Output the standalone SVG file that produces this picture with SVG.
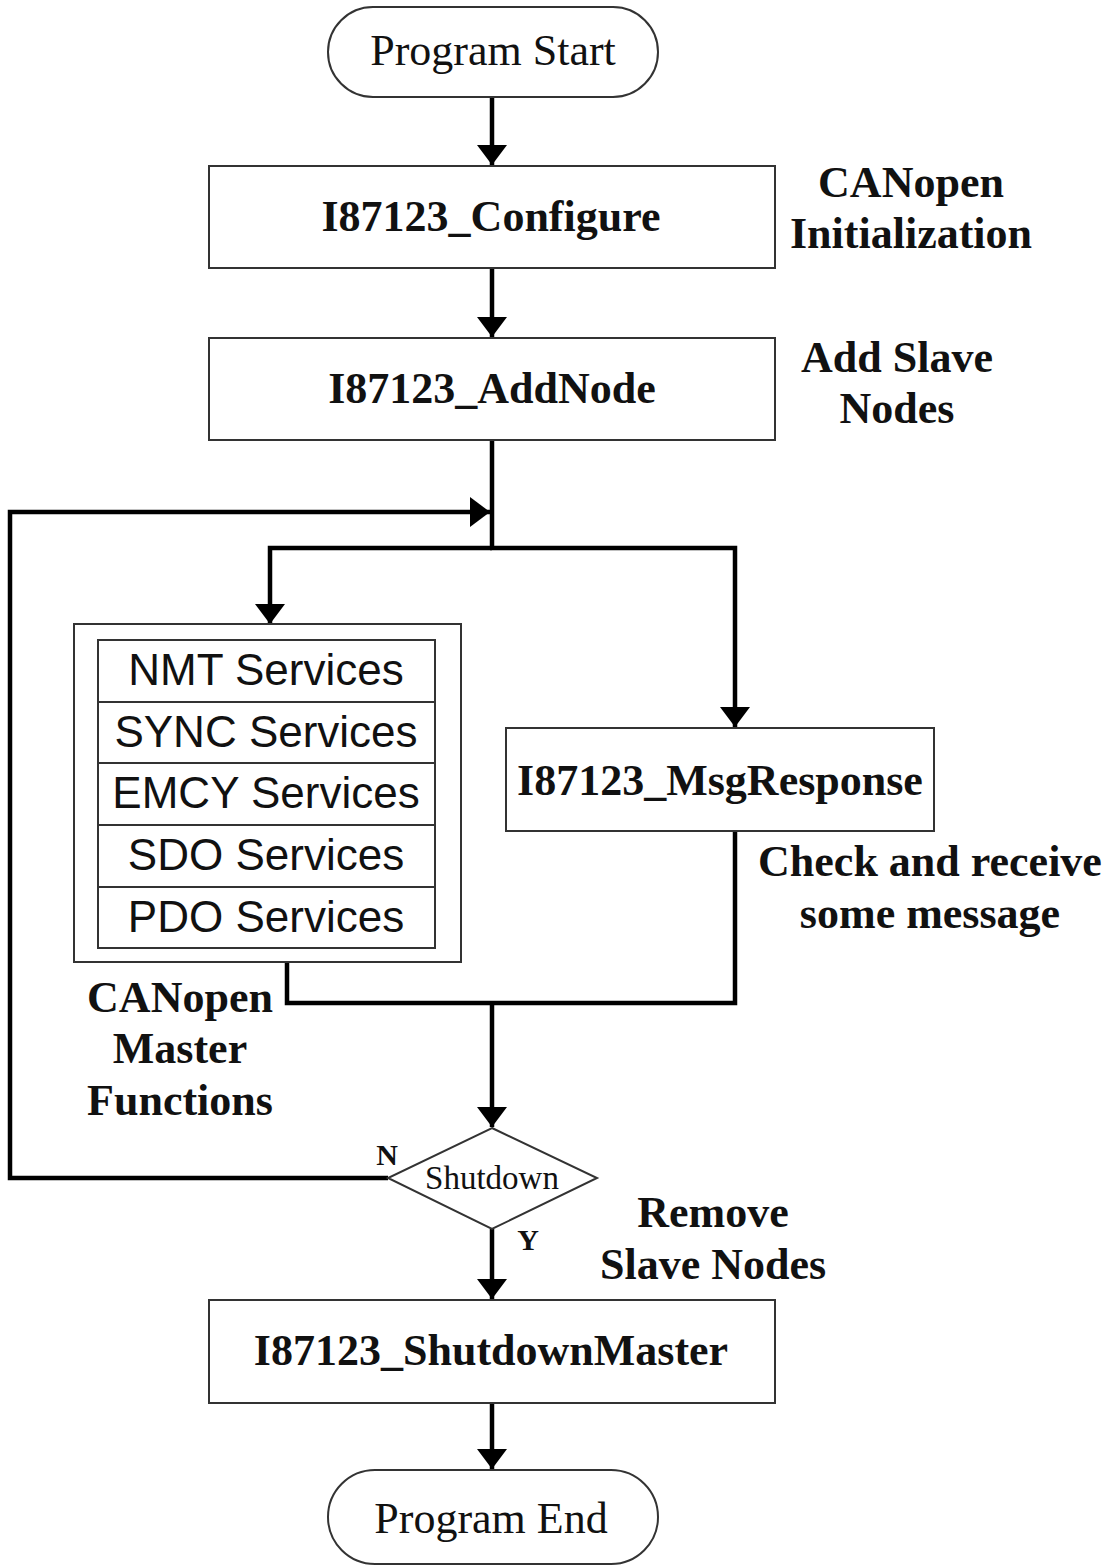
<svg xmlns="http://www.w3.org/2000/svg" width="1111" height="1566" viewBox="0 0 1111 1566">
<defs>
<marker id="ah" viewBox="0 0 20 30" refX="20" refY="15" markerWidth="20" markerHeight="30" markerUnits="userSpaceOnUse" orient="auto">
<path d="M0,0 L20,15 L0,30 Z" fill="#000"/>
</marker>
<style>
.box{fill:#fff;stroke:#333;stroke-width:2}
.conn{fill:none;stroke:#000;stroke-width:4.5}
.t{font-family:"Liberation Serif",serif;font-size:44px;text-anchor:middle;fill:#111}
.b{font-family:"Liberation Serif",serif;font-size:44px;font-weight:bold;text-anchor:middle;fill:#111}
.s{font-family:"Liberation Sans",Arial,sans-serif;font-size:44px;text-anchor:middle;fill:#111}
</style>
</defs>
<rect width="1111" height="1566" fill="#fff"/>
<g id="connectors">
<path class="conn" d="M492,97 V165" marker-end="url(#ah)"/>
<path class="conn" d="M492,268 V337" marker-end="url(#ah)"/>
<path class="conn" d="M492,440 V548"/>
<path class="conn" d="M492,548 H270 V624" marker-end="url(#ah)"/>
<path class="conn" d="M490,548 H735 V727" marker-end="url(#ah)"/>
<path class="conn" d="M735,831 V1003 H287 V962"/>
<path class="conn" d="M492,1003 V1127" marker-end="url(#ah)"/>
<path class="conn" d="M388,1178 H10 V512 H490" marker-end="url(#ah)"/>
<path class="conn" d="M492,1229 V1299" marker-end="url(#ah)"/>
<path class="conn" d="M492,1403 V1469" marker-end="url(#ah)"/>
</g>
<g id="start">
<rect class="box" x="328" y="7" width="330" height="90" rx="45"/>
<text class="t" x="493" y="65">Program Start</text>
</g>
<g id="configure">
<rect class="box" x="209" y="166" width="566" height="102"/>
<text class="b" x="491" y="231">I87123_Configure</text>
</g>
<g id="addnode">
<rect class="box" x="209" y="338" width="566" height="102"/>
<text class="b" x="492" y="403">I87123_AddNode</text>
</g>
<g id="master-functions">
<rect class="box" x="74" y="624" width="387" height="338"/>
<rect class="box" x="98" y="640" width="337" height="308"/>
<line x1="98" y1="702" x2="435" y2="702" stroke="#333" stroke-width="2"/>
<line x1="98" y1="763" x2="435" y2="763" stroke="#333" stroke-width="2"/>
<line x1="98" y1="825" x2="435" y2="825" stroke="#333" stroke-width="2"/>
<line x1="98" y1="887" x2="435" y2="887" stroke="#333" stroke-width="2"/>
<text class="s" x="266" y="685">NMT Services</text>
<text class="s" x="266" y="747">SYNC Services</text>
<text class="s" x="266" y="808">EMCY Services</text>
<text class="s" x="266" y="870">SDO Services</text>
<text class="s" x="266" y="932">PDO Services</text>
</g>
<g id="msgresponse">
<rect class="box" x="506" y="728" width="428" height="103"/>
<text class="b" x="720" y="795">I87123_MsgResponse</text>
</g>
<g id="shutdown">
<path class="box" d="M492,1128 L597,1178 L492,1229 L388,1178 Z"/>
<text class="t" x="492" y="1189" style="font-size:33px">Shutdown</text>
</g>
<g id="shutdownmaster">
<rect class="box" x="209" y="1300" width="566" height="103"/>
<text class="b" x="491" y="1365">I87123_ShutdownMaster</text>
</g>
<g id="end">
<rect class="box" x="328" y="1470" width="330" height="94" rx="47"/>
<text class="t" x="491" y="1533">Program End</text>
</g>
<g id="labels">
<text class="b" x="911" y="197">CANopen</text>
<text class="b" x="911" y="248">Initialization</text>
<text class="b" x="897" y="372">Add Slave</text>
<text class="b" x="897" y="423">Nodes</text>
<text class="b" x="930" y="876">Check and receive</text>
<text class="b" x="930" y="928">some message</text>
<text class="b" x="180" y="1012">CANopen</text>
<text class="b" x="180" y="1063">Master</text>
<text class="b" x="180" y="1115">Functions</text>
<text class="b" x="713" y="1227">Remove</text>
<text class="b" x="713" y="1279">Slave Nodes</text>
<text class="b" x="387" y="1165" style="font-size:30px">N</text>
<text class="b" x="528" y="1250" style="font-size:30px">Y</text>
</g>
</svg>
